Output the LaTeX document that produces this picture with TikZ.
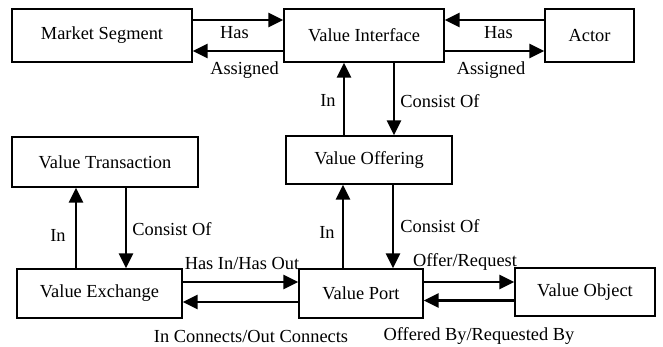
\documentclass[tikz,border=0pt]{standalone}
\usepackage{fontspec}
\setmainfont{Liberation Serif}
\usetikzlibrary{arrows.meta}
\begin{document}
\begin{tikzpicture}[x=1pt,y=-1pt,
  box/.style={draw,line width=1.4pt,inner sep=0pt,align=center},
  arr/.style={line width=2.6pt,-{Triangle[length=15pt,width=14pt]}},
  lbl/.style={inner sep=0pt},
  every node/.append style={font=\fontsize{18.4}{22}\selectfont}]
\useasboundingbox (0,0) rectangle (663,347);

% entities
\node[box,minimum width=180pt,minimum height=53pt] (ms)  at (102,35.5)  {Market Segment};
\node[box,minimum width=160pt,minimum height=53pt] (vi)  at (364,35.5)  {Value Interface};
\node[box,minimum width=89pt, minimum height=53pt] (act) at (589.5,35.5){Actor};
\node[box,minimum width=186pt,minimum height=50pt] (vt)  at (105,162)   {Value Transaction};
\node[box,minimum width=166pt,minimum height=48pt] (vo)  at (369,160)   {Value Offering};
\node[box,minimum width=165pt,minimum height=49pt] (ve)  at (99.5,293.5){Value Exchange};
\node[box,minimum width=124pt,minimum height=49pt] (vp)  at (361,293.5) {Value Port};
\node[box,minimum width=140pt,minimum height=48pt] (vob) at (585,292)   {Value Object};

% market segment / actor <-> value interface
\draw[arr] ([yshift=15.5pt]ms.east) -- ([yshift=15.5pt]ms.east -| vi.west);
\draw[arr] ([yshift=-15.5pt]vi.west) -- ([yshift=-15.5pt]vi.west -| ms.east);
\draw[arr] ([yshift=15.5pt]act.west) -- ([yshift=15.5pt]act.west -| vi.east);
\draw[arr] ([yshift=-15.5pt]vi.east) -- ([yshift=-15.5pt]vi.east -| act.west);

% value interface <-> value offering
\draw[arr] (vo.north -| 344,0) -- (vi.south -| 344,0);
\draw[arr] (vi.south -| 394,0) -- (vo.north -| 394,0);

% value exchange <-> value transaction
\draw[arr] (ve.north -| 76,0) -- (vt.south -| 76,0);
\draw[arr] (vt.south -| 126,0) -- (ve.north -| 126,0);

% value port <-> value offering
\draw[arr] (vp.north -| 343,0) -- (vo.south -| 343,0);
\draw[arr] (vo.south -| 393,0) -- (vp.north -| 393,0);

% value exchange / value object <-> value port
\draw[arr] ([yshift=11.5pt]ve.east) -- ([yshift=11.5pt]ve.east -| vp.west);
\draw[arr] ([yshift=-8.5pt]vp.west) -- ([yshift=-8.5pt]vp.west -| ve.east);
\draw[arr] ([yshift=11.5pt]vp.east) -- ([yshift=11.5pt]vp.east -| vob.west);
\draw[arr] ([yshift=-8.5pt]vob.west) -- ([yshift=-8.5pt]vob.west -| vp.east);

% relation labels
\node[lbl] (l1)  at (234.5,33)  {Has};
\node[lbl] (l2)  at (244.5,70)  {Assigned};
\node[lbl] (l3)  at (498.5,33)  {Has};
\node[lbl] (l4)  at (491,70)    {Assigned};
\node[lbl] (l5)  at (328,100)   {In};
\node[lbl] (l6)  at (440,101)   {Consist Of};
\node[lbl] (l7)  at (58,235)    {In};
\node[lbl] (l8)  at (172,229)   {Consist Of};
\node[lbl] (l9)  at (327,232)   {In};
\node[lbl] (l10) at (440,226)   {Consist Of};
\node[lbl] (l11) at (242,263)   {Has In/Has Out};
\node[lbl] (l12) at (465,262)   {Offer/Request};
\node[lbl] (l13) at (251,336)   {In Connects/Out Connects};
\node[lbl] (l14) at (479,336)   {Offered By/Requested By};
\end{tikzpicture}
\end{document}
